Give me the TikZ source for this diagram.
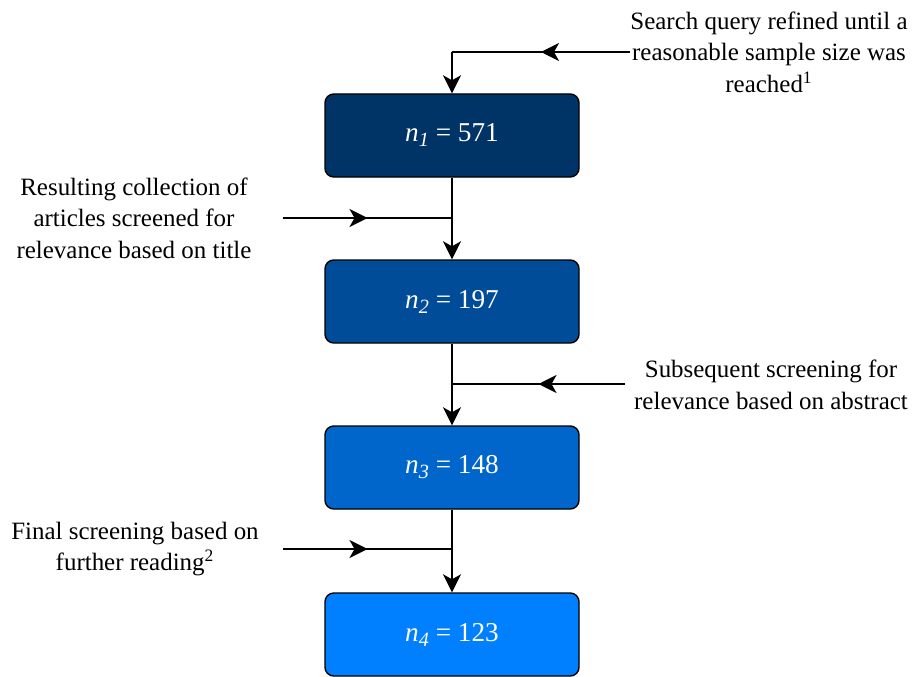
\documentclass[tikz,border=0pt]{standalone}
\usepackage{fontspec}
\setmainfont{Liberation Serif}
\usepackage{tikz}
\usetikzlibrary{arrows.meta,decorations.markings}
\definecolor{stepOne}{HTML}{003366}
\definecolor{stepTwo}{HTML}{004C99}
\definecolor{stepThree}{HTML}{0066CC}
\definecolor{stepFour}{HTML}{0080FF}
\newcommand{\nval}[2]{\textit{n}\raisebox{-0.4ex}{\textit{\fontsize{11.5}{12}\selectfont #1}} = #2}

\begin{document}
\begin{tikzpicture}[font=\fontsize{14.2}{18}\selectfont,
  stage/.style={draw, line width=0.8pt, rounded corners=5pt, minimum width=5.08cm, minimum height=1.66cm,
    text=white, font=\fontsize{15.5}{18}\selectfont},
  note/.style={align=center},
  flow/.style={line width=1.3pt, -{Stealth[length=0.36cm,width=0.36cm,inset=0.1cm]}},
  feed/.style={line width=1.3pt, decoration={markings,
    mark=at position 0.5 with {\arrow{Stealth[length=0.36cm,width=0.36cm,inset=0.1cm]}}}, postaction={decorate}}]
\useasboundingbox (0,0) rectangle (18.24,-13.54);
% stages
\node[stage, fill=stepOne] (s1) at (9.04,-2.71) {\nval{1}{571}};
\node[stage, fill=stepTwo] (s2) at (9.04,-6.03) {\nval{2}{197}};
\node[stage, fill=stepThree] (s3) at (9.04,-9.35) {\nval{3}{148}};
\node[stage, fill=stepFour] (s4) at (9.04,-12.69) {\nval{4}{123}};
% junctions and feed ends
\coordinate (j1) at (9.04,-1.04);
\coordinate (f1) at (12.6,-1.04);
\coordinate (j2) at (9.04,-4.36);
\coordinate (f2) at (5.66,-4.36);
\coordinate (j3) at (9.04,-7.68);
\coordinate (f3) at (12.5,-7.68);
\coordinate (j4) at (9.04,-10.98);
\coordinate (f4) at (5.66,-10.98);
% notes
\node[note] (t1) at (15.38,-1.04) {Search query refined until a\\reasonable sample size was\\reached\textsuperscript{1}};
\node[note] (t2) at (2.68,-4.36) {Resulting collection of\\articles screened for\\relevance based on title};
\node[note] (t3) at (15.42,-7.7) {Subsequent screening for\\relevance based on abstract};
\node[note] (t4) at (2.7,-10.98) {Final screening based on\\further reading\textsuperscript{2}};
% feeds
\draw[feed] (f1) -- (j1);
\draw[feed] (f2) -- (j2);
\draw[feed] (f3) -- (j3);
\draw[feed] (f4) -- (j4);
% flow
\draw[flow] (j1) -- (s1.north);
\draw[flow] (s1.south) -- (s2.north);
\draw[flow] (s2.south) -- (s3.north);
\draw[flow] (s3.south) -- (s4.north);
\end{tikzpicture}
\end{document}
